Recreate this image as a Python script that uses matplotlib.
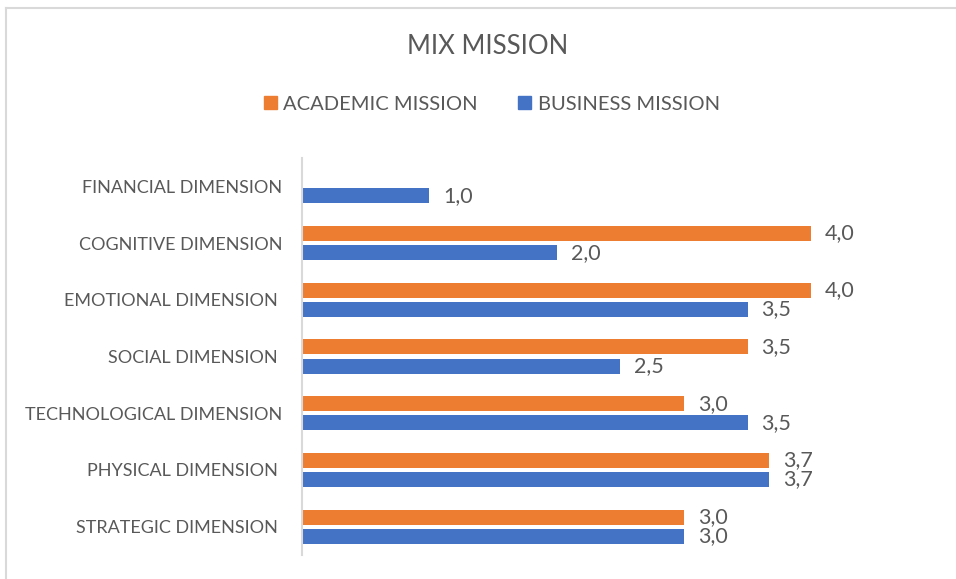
import numpy as np
import matplotlib.pyplot as plt
from matplotlib.lines import Line2D
from matplotlib.patches import Patch

plt.rcParams['font.family'] = ['Lato', 'DejaVu Sans']

# categories listed bottom to top
categories = ['STRATEGIC DIMENSION ', 'PHYSICAL DIMENSION ', 'TECHNOLOGICAL DIMENSION',
              'SOCIAL DIMENSION ', 'EMOTIONAL DIMENSION ', 'COGNITIVE DIMENSION',
              'FINANCIAL DIMENSION']
academic = [3.0, 3.67, 3.0, 3.5, 4.0, 4.0, np.nan]
business = [3.0, 3.67, 3.5, 2.5, 3.5, 2.0, 1.0]

ORANGE = '#ED7D31'
BLUE = '#4472C4'
TXT = '#595959'

W, H = 956, 579
fig = plt.figure(figsize=(W / 100, H / 100), dpi=100)
ax = fig.add_axes([302 / W, 24 / H, 598 / W, 397 / H])

y = np.arange(len(categories))
bh = 0.265
off = 0.168
ax.barh(y + off, academic, height=bh, color=ORANGE, label='ACADEMIC MISSION')
ax.barh(y - off, business, height=bh, color=BLUE, label='BUSINESS MISSION')

for yi, a, b in zip(y, academic, business):
    for v, yy in ((a, yi + off), (b, yi - off)):
        if np.isnan(v):
            continue
        ax.annotate(f'{v:.1f}'.replace('.', ','), (v, yy), xytext=(14, 0),
                    textcoords='offset pixels', ha='left', va='center',
                    fontsize=15.5, color=TXT)

ax.set_xlim(0, 598 / 127.3)
ax.set_ylim(-0.5, len(categories) - 0.5)
ax.set_yticks(y)
ax.set_yticklabels(categories, fontsize=13, color=TXT)
ax.tick_params(axis='y', length=0, pad=14)
ax.set_xticks([])
for s in ['top', 'right', 'bottom']:
    ax.spines[s].set_visible(False)
ax.spines['left'].set_color('#d9d9d9')
ax.spines['left'].set_linewidth(1.5)

fig.text(488 / W, 1 - 47 / H, 'MIX MISSION', ha='center', va='center',
         fontsize=18.5, color=TXT)

handles = [Patch(color=ORANGE, label='ACADEMIC MISSION'),
           Patch(color=BLUE, label='BUSINESS MISSION')]
fig.legend(handles=handles, loc='center', bbox_to_anchor=(492 / W, 1 - 104 / H),
           ncol=2, frameon=False, fontsize=14.5, labelcolor=TXT,
           handlelength=0.65, handleheight=0.65, handletextpad=0.3,
           columnspacing=2.0)

# chart frame (top and left edges fall inside the image)
fig.add_artist(Line2D([6 / W, 6 / W], [0, 1 - 8 / H], color='#d9d9d9', lw=1.5))
fig.add_artist(Line2D([6 / W, 1], [1 - 8 / H, 1 - 8 / H], color='#d9d9d9', lw=1.5))

fig.savefig('out.png', dpi=100)
